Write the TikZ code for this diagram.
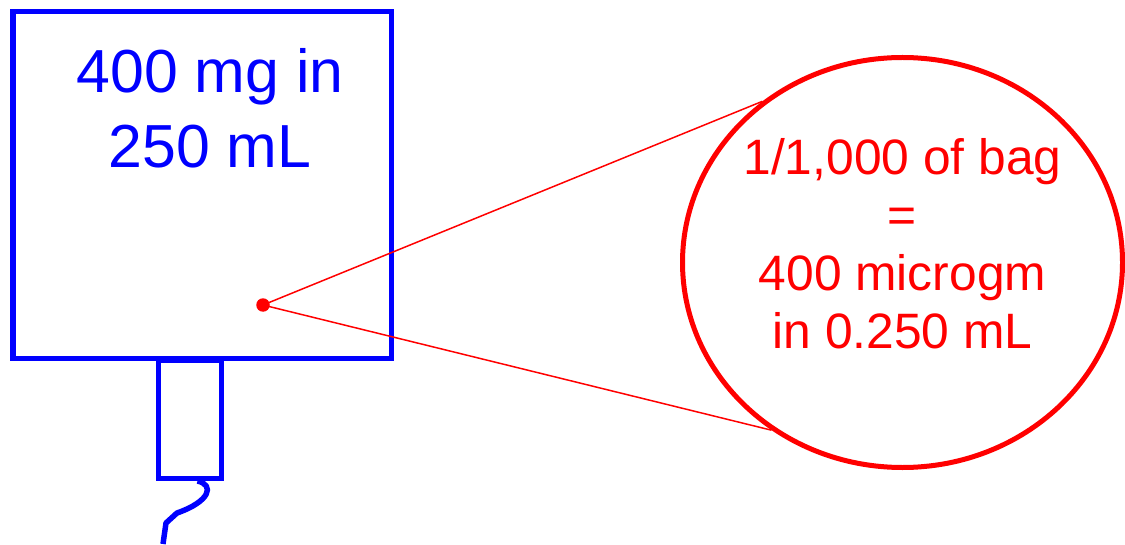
\documentclass[tikz,border=0pt]{standalone}
\usepackage{fontspec}
\setmainfont{Liberation Sans}
\usepackage{xcolor}
\usepackage{tikz}
\usetikzlibrary{shapes.geometric, positioning, calc}

\begin{document}
\begin{tikzpicture}[
    bagline/.style={draw=blue, line width=0.1cm},
    bagtxt/.style={text=blue, align=center, font=\fontsize{34.6}{42.4}\selectfont},
    zoomline/.style={draw=red, line width=0.1cm},
    zoomtxt/.style={text=red, align=center, font=\fontsize{28.3}{33}\selectfont},
    ray/.style={red, line width=0.03cm}
]
\useasboundingbox (0,0) rectangle (22.5,10.88);

% Bag with tube and line
\node[bagline, rectangle, minimum width=7.56cm, minimum height=6.92cm, inner sep=0] (bag) at (4.04,7.18) {};
\node[bagline, rectangle, minimum width=1.26cm, minimum height=2.36cm, inner sep=0, anchor=north] (tube) at (3.79,3.72) {};
\coordinate (lineend) at (3.26,0.0);
\draw[blue, line width=0.11cm, line join=round] ($(tube.south)+(0.16,0)$) .. controls (4.3,1.18) and (4.2,0.85) .. (3.54,0.62) -- (3.32,0.42) -- (lineend);
\node[bagtxt] (bagtext) at (4.2,8.71) {400 mg in\\250 mL};

% Zoomed drop
\node[circle, fill=red, inner sep=0, minimum size=0.27cm] (dot) at (5.26,4.78) {};
\node[zoomline, ellipse, minimum width=8.8cm, minimum height=8.2cm, inner sep=0] (zoom) at (18.05,5.63) {};
\draw[ray] (dot.center) -- (zoom.131.8);
\draw[ray] (dot.center) -- (zoom.232.3);
\node[zoomtxt] (zoomtext) at (18.05,6.01) {1/1,000 of bag\\=\\400 microgm\\in 0.250 mL};
\end{tikzpicture}
\end{document}
